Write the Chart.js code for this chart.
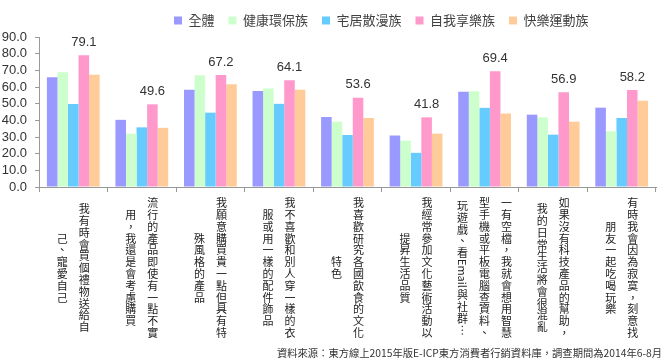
<!DOCTYPE html>
<html>
<head>
<meta charset="utf-8">
<script src="https://cdn.jsdelivr.net/npm/chart.js@4/dist/chart.umd.min.js"></script>
<style>
  html, body { margin: 0; padding: 0; background: #ffffff; }
  #wrap { width: 669px; height: 362px; position: relative; }
</style>
</head>
<body>
<div id="wrap"><canvas id="c" width="669" height="362"></canvas></div>
<script>
// ---- data ----
const categories = [
  ["我有時會買個禮物送給自", "己、寵愛自己"],
  ["流行的產品即使有一點不實", "用，我還是會考慮購買"],
  ["我願意購買貴一點但具有特", "殊風格的產品"],
  ["我不喜歡和別人穿一樣的衣", "服或用一樣的配件飾品"],
  ["我喜歡研究各國飲食的文化", "特色"],
  ["我經常參加文化藝術活動以", "提昇生活品質"],
  ["一有空檔，我就會想用智慧", "型手機或平板電腦查資料、", "玩遊戲、看Email與社群…"],
  ["如果沒有科技產品的幫助，", "我的日常生活將會很混亂"],
  ["有時我會因為寂寞，刻意找", "朋友一起吃喝玩樂"]
];
const seriesNames = ["全體", "健康環保族", "宅居散漫族", "自我享樂族", "快樂運動族"];
const allValues     = [65.9, 40.3, 58.4, 57.6, 42.0, 30.9, 57.1, 43.4, 47.6];
const healthValues  = [68.9, 32.0, 67.0, 59.1, 39.2, 27.8, 57.5, 41.8, 33.4];
const homeValues    = [49.8, 35.8, 44.6, 49.9, 31.2, 20.5, 47.5, 31.4, 41.4];
const selfValues    = [79.1, 49.6, 67.2, 64.1, 53.6, 41.8, 69.4, 56.9, 58.2];
const sportValues   = [67.3, 35.5, 61.6, 58.3, 41.4, 32.0, 44.1, 39.2, 51.8];
const yTickLabels = ["0.0", "10.0", "20.0", "30.0", "40.0", "50.0", "60.0", "70.0", "80.0", "90.0"];
const sourceNote = "資料來源：東方線上2015年版E-ICP東方消費者行銷資料庫，調查期間為2014年6-8月";
const labeledSeries = 3; // 自我享樂族 carries value labels

const colors = ["#9999FF", "#CCFFCC", "#66CCFF", "#FF99CC", "#FFCC99"];
const seriesValues = [allValues, healthValues, homeValues, selfValues, sportValues];

const CJK = "'Noto Sans CJK TC', 'Noto Sans CJK SC', sans-serif";
const NUM = "'Liberation Sans', Arial, sans-serif";

// draw one vertical column of text (CJK upright, Latin runs rotated)
function drawVerticalColumn(ctx, text, x, yCenter, pitch) {
  const segs = [];
  const re = /[A-Za-z0-9]+|…/g;
  let last = 0, m;
  while ((m = re.exec(text)) !== null) {
    for (const ch of text.slice(last, m.index)) segs.push({t: ch, rot: false});
    segs.push({t: m[0], rot: true});
    last = m.index + m[0].length;
  }
  for (const ch of text.slice(last)) segs.push({t: ch, rot: false});
  let total = 0;
  segs.forEach(s => {
    s.len = s.rot ? (s.t === "…" ? pitch : ctx.measureText(s.t).width + 1) : pitch;
    total += s.len;
  });
  let y = yCenter - total / 2;
  segs.forEach(s => {
    if (s.rot) {
      ctx.save();
      ctx.translate(x, y);
      ctx.rotate(Math.PI / 2);
      ctx.textAlign = s.t === "…" ? "center" : "left";
      ctx.textBaseline = "middle";
      ctx.fillText(s.t, s.t === "…" ? pitch / 2 : 0, 0);
      ctx.restore();
    } else {
      ctx.textAlign = "center";
      ctx.textBaseline = "middle";
      ctx.fillText(s.t, x, y + s.len / 2);
    }
    y += s.len;
  });
}

const decorPlugin = {
  id: "decor",
  afterLayout(chart) {
    const lg = chart.legend;
    if (lg) {
      const shift = 160 - lg.left;
      lg.left += shift;
      lg.right += shift;
    }
  },
  afterDatasetsDraw(chart) {
    const ctx = chart.ctx;
    const meta = chart.getDatasetMeta(labeledSeries);
    ctx.save();
    ctx.fillStyle = "#333333";
    ctx.font = "13px " + NUM;
    ctx.textAlign = "center";
    ctx.textBaseline = "middle";
    meta.data.forEach((bar, i) => {
      ctx.fillText(seriesValues[labeledSeries][i].toFixed(1), bar.x, bar.y - 13);
    });
    ctx.restore();
  },
  afterDraw(chart) {
    const ctx = chart.ctx;
    const xs = chart.scales.x;
    ctx.save();
    ctx.fillStyle = "#222222";
    ctx.font = "11px " + CJK;
    categories.forEach((cols, i) => {
      const cx = xs.getPixelForValue(i);
      const n = cols.length;
      cols.forEach((col, k) => {
        const x = cx + ((n - 1) / 2 - k) * 22;
        drawVerticalColumn(ctx, col, x, 268, 11.8);
      });
    });
    ctx.fillStyle = "#333333";
    ctx.font = "10.3px " + CJK;
    ctx.textAlign = "right";
    ctx.textBaseline = "middle";
    ctx.fillText(sourceNote, 662, 353);
    ctx.restore();
  }
};

new Chart(document.getElementById("c"), {
  type: "bar",
  data: {
    labels: categories.map(c => c.join("")),
    datasets: seriesNames.map((name, i) => ({
      label: name,
      data: seriesValues[i],
      backgroundColor: colors[i],
      borderWidth: 0,
      barPercentage: 1.0,
      categoryPercentage: 0.77
    }))
  },
  options: {
    responsive: false,
    animation: false,
    layout: { padding: { left: 0, right: 13, top: 0, bottom: 170 } },
    plugins: {
      legend: {
        position: "top",
        align: "start",
        labels: {
          boxWidth: 8,
          boxHeight: 8,
          padding: 14,
          color: "#404040",
          font: { size: 13, family: CJK }
        }
      },
      tooltip: { enabled: false }
    },
    scales: {
      x: {
        grid: { display: true, drawOnChartArea: false, drawTicks: true, tickLength: 5, color: "#999999", offset: true },
        border: { display: true, color: "#999999" },
        ticks: { display: false }
      },
      y: {
        min: 0,
        max: 90,
        ticks: {
          stepSize: 10,
          autoSkip: false,
          padding: 8,
          color: "#333333",
          font: { size: 13, family: NUM },
          callback: (v, i) => yTickLabels[i]
        },
        grid: { display: true, drawOnChartArea: false, drawTicks: true, tickLength: 4, color: "#999999" },
        border: { display: true, color: "#999999" },
        afterFit(scale) { scale.width = 39; }
      }
    }
  },
  plugins: [decorPlugin]
});
</script>
</body>
</html>
